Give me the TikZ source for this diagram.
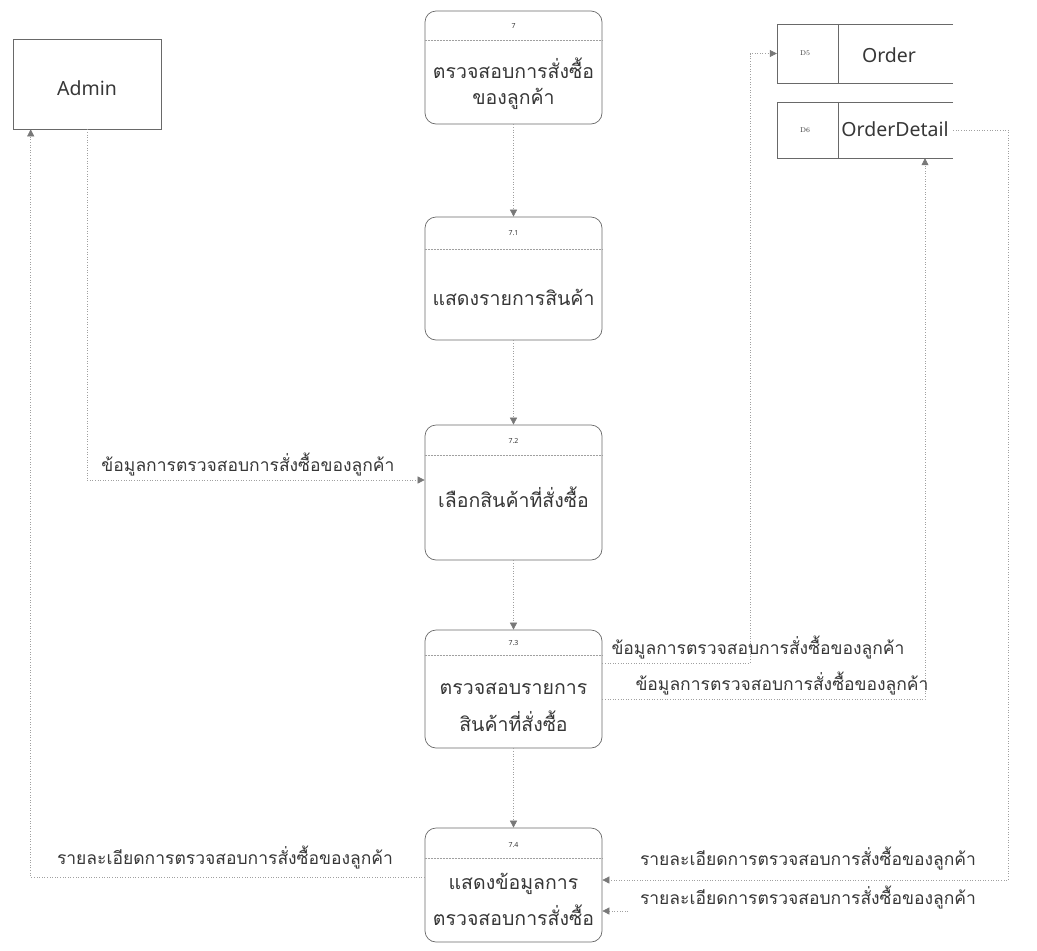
\documentclass[tikz,border=0pt]{standalone}
\usepackage{fontspec}
\newfontfamily\thaifont[Script=Thai]{Loma}
\newfontfamily\latinfont{Noto Sans}
\usetikzlibrary{arrows.meta}
\definecolor{linegray}{RGB}{160,160,160}
\definecolor{boxgray}{RGB}{105,105,105}
\definecolor{textgray}{RGB}{55,55,55}
\definecolor{tipgray}{RGB}{120,120,120}

\begin{document}
\begin{tikzpicture}[x=1pt,y=-1pt,
  proc/.style={draw=boxgray, line width=0.7pt, rounded corners=11pt,
    minimum width=177pt, inner sep=0pt},
  entity/.style={draw=boxgray, line width=0.6pt, minimum width=148pt,
    minimum height=90pt, inner sep=0pt},
  store/.style={minimum width=176pt, inner sep=0pt},
  divider/.style={draw=linegray, line width=0.5pt, densely dotted},
  storeline/.style={draw=boxgray, line width=0.6pt},
  flow/.style={draw=linegray, line width=0.6pt, dotted,
    -{Triangle[length=7pt,width=7pt,color=tipgray]}},
  ptext/.style={font=\thaifont\fontsize{19.5}{19.5}\selectfont, text=textgray, inner sep=0pt},
  ftext/.style={font=\thaifont\fontsize{17.5}{17.5}\selectfont, text=textgray, inner sep=0pt},
  pnum/.style={font=\latinfont\fontsize{7}{7}\selectfont, text=textgray, inner sep=0pt},
  snum/.style={font=\rmfamily\fontsize{7}{7}\selectfont, text=textgray, inner sep=0pt},
  ename/.style={font=\latinfont\fontsize{19.5}{19.5}\selectfont, text=textgray, inner sep=0pt}
]
\useasboundingbox (0,0) rectangle (1037,951);

% external entity
\node[entity] (admin) at (87,84) {};
\node[ename] (admintext) at (87,88) {Admin};

% processes
\node[proc, minimum height=113pt] (p7) at (513.5,67.5) {};
\node[proc, minimum height=123pt] (p71) at (513.5,278.5) {};
\node[proc, minimum height=135pt] (p72) at (513.5,492.5) {};
\node[proc, minimum height=118pt] (p73) at (513.5,689) {};
\node[proc, minimum height=114pt] (p74) at (513.5,885) {};

\draw[divider] (p7.west |- 0,40) -- (p7.east |- 0,40);
\draw[divider] (p71.west |- 0,249) -- (p71.east |- 0,249);
\draw[divider] (p72.west |- 0,455) -- (p72.east |- 0,455);
\draw[divider] (p73.west |- 0,655) -- (p73.east |- 0,655);
\draw[divider] (p74.west |- 0,858) -- (p74.east |- 0,858);

\node[pnum] (n7) at (513.5,26) {7};
\node[pnum] (n71) at (513.5,233) {7.1};
\node[pnum] (n72) at (513.5,441) {7.2};
\node[pnum] (n73) at (513.5,643) {7.3};
\node[pnum] (n74) at (513.5,845) {7.4};

\node[ptext] (t7a) at (513.5,68) {ตรวจสอบการสั่งซื้อ};
\node[ptext] (t7b) at (513.5,99) {ของลูกค้า};
\node[ptext] (t71) at (513.5,297) {แสดงรายการสินค้า};
\node[ptext] (t72) at (513.5,497) {เลือกสินค้าที่สั่งซื้อ};
\node[ptext] (t73a) at (513.5,689) {ตรวจสอบรายการ};
\node[ptext] (t73b) at (513.5,721) {สินค้าที่สั่งซื้อ};
\node[ptext] (t74a) at (513.5,884) {แสดงข้อมูลการ};
\node[ptext] (t74b) at (513.5,915) {ตรวจสอบการสั่งซื้อ};

% data stores (open on the right)
\node[store, minimum height=59pt] (d5) at (865,53.5) {};
\node[store, minimum height=56pt] (d6) at (865,130) {};
\foreach \s in {d5,d6}{
  \draw[storeline] (\s.north east) -- (\s.north west) -- (\s.south west) -- (\s.south east);
  \draw[storeline, line width=0.9pt] ([xshift=62pt]\s.north west) -- ([xshift=62pt]\s.south west);
}
\node[snum] (d5num) at (805,53) {D5};
\node[snum] (d6num) at (805,130) {D6};
\node[ename] (d5text) at (889,55) {Order};
\node[ename] (d6text) at (895,129) {OrderDetail};

% data flows between processes
\draw[flow] (p7.south) -- (p71.north);
\draw[flow] (p71.south) -- (p72.north);
\draw[flow] (p72.south) -- (p73.north);
\draw[flow] (p73.south) -- (p74.north);

% Admin to 7.2
\draw[flow] (admin.south) |- (p72.west |- 0,480);
\node[ftext] (l1) at (248,465) {ข้อมูลการตรวจสอบการสั่งซื้อของลูกค้า};

% 7.4 back to Admin
\draw[flow] (p74.west |- 0,877) -| ([xshift=18pt]admin.south west);
\node[ftext] (l2) at (225,857) {รายละเอียดการตรวจสอบการสั่งซื้อของลูกค้า};

% 7.3 to the stores
\draw[flow] (p73.east |- 0,663) -| ([xshift=-27pt]d5.west) -- (d5.west);
\node[ftext] (l3) at (758,648) {ข้อมูลการตรวจสอบการสั่งซื้อของลูกค้า};
\draw[flow] (p73.east |- 0,699) -| ([xshift=60pt]d6.south);
\node[ftext] (l4) at (782,684) {ข้อมูลการตรวจสอบการสั่งซื้อของลูกค้า};

% OrderDetail to 7.4
\coordinate (rbend) at (1008,880);
\draw[flow] (d6.east) -| (rbend) -- (p74.east |- rbend);
\node[ftext] (l5) at (808,858) {รายละเอียดการตรวจสอบการสั่งซื้อของลูกค้า};
\coordinate (stub) at (628,911);
\draw[flow] (stub) -- (p74.east |- stub);
\node[ftext] (l6) at (808,897) {รายละเอียดการตรวจสอบการสั่งซื้อของลูกค้า};
\end{tikzpicture}
\end{document}
